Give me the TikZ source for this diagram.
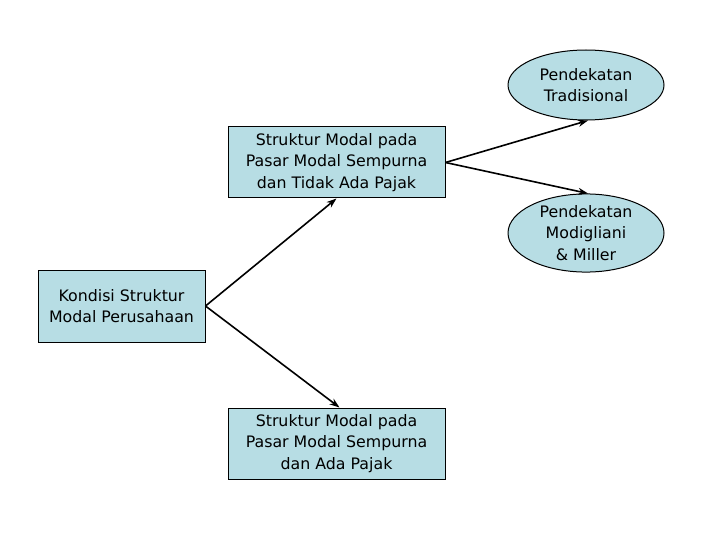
\documentclass[tikz,border=0pt]{standalone}
\usepackage{fontspec}
\setmainfont{DejaVu Sans}
\usetikzlibrary{arrows.meta,shapes.geometric}
\definecolor{boxfill}{RGB}{183,221,228}
\begin{document}
\begin{tikzpicture}[x=1pt,y=-1pt,
  base/.style={draw=black,fill=boxfill,line width=1pt,align=center,inner sep=0pt,
    font=\fontsize{15.8}{21.5}\selectfont},
  rectbox/.style={base,rectangle,minimum width=217pt,minimum height=71pt},
  leftbox/.style={base,rectangle,minimum width=167pt,minimum height=72pt},
  ellbox/.style={base,ellipse,minimum width=156pt,minimum height=70pt},
  conn/.style={line width=1.6pt,-{Stealth[length=10pt,width=7pt]}}]
\useasboundingbox (0,0) rectangle (720,540);
\node[rectbox] (T) at (336.5,162.5) {Struktur Modal pada\\Pasar Modal Sempurna\\dan Tidak Ada Pajak};
\node[rectbox] (B) at (336.5,443.5) {Struktur Modal pada\\Pasar Modal Sempurna\\dan Ada Pajak};
\node[leftbox] (L) at (121.5,306) {Kondisi Struktur\\Modal Perusahaan};
\node[ellbox] (E1) at (586,85) {Pendekatan\\Tradisional};
\node[ellbox] (E2) at (586,233) {Pendekatan\\Modigliani\\\& Miller};
\draw[conn] (L.east) -- (T.south);
\draw[conn] (L.east) -- ([xshift=3pt]B.north);
\draw[conn] (T.east) -- ([xshift=2pt]E1.south);
\draw[conn] (T.east) -- ([xshift=2pt]E2.north);
\end{tikzpicture}
\end{document}
